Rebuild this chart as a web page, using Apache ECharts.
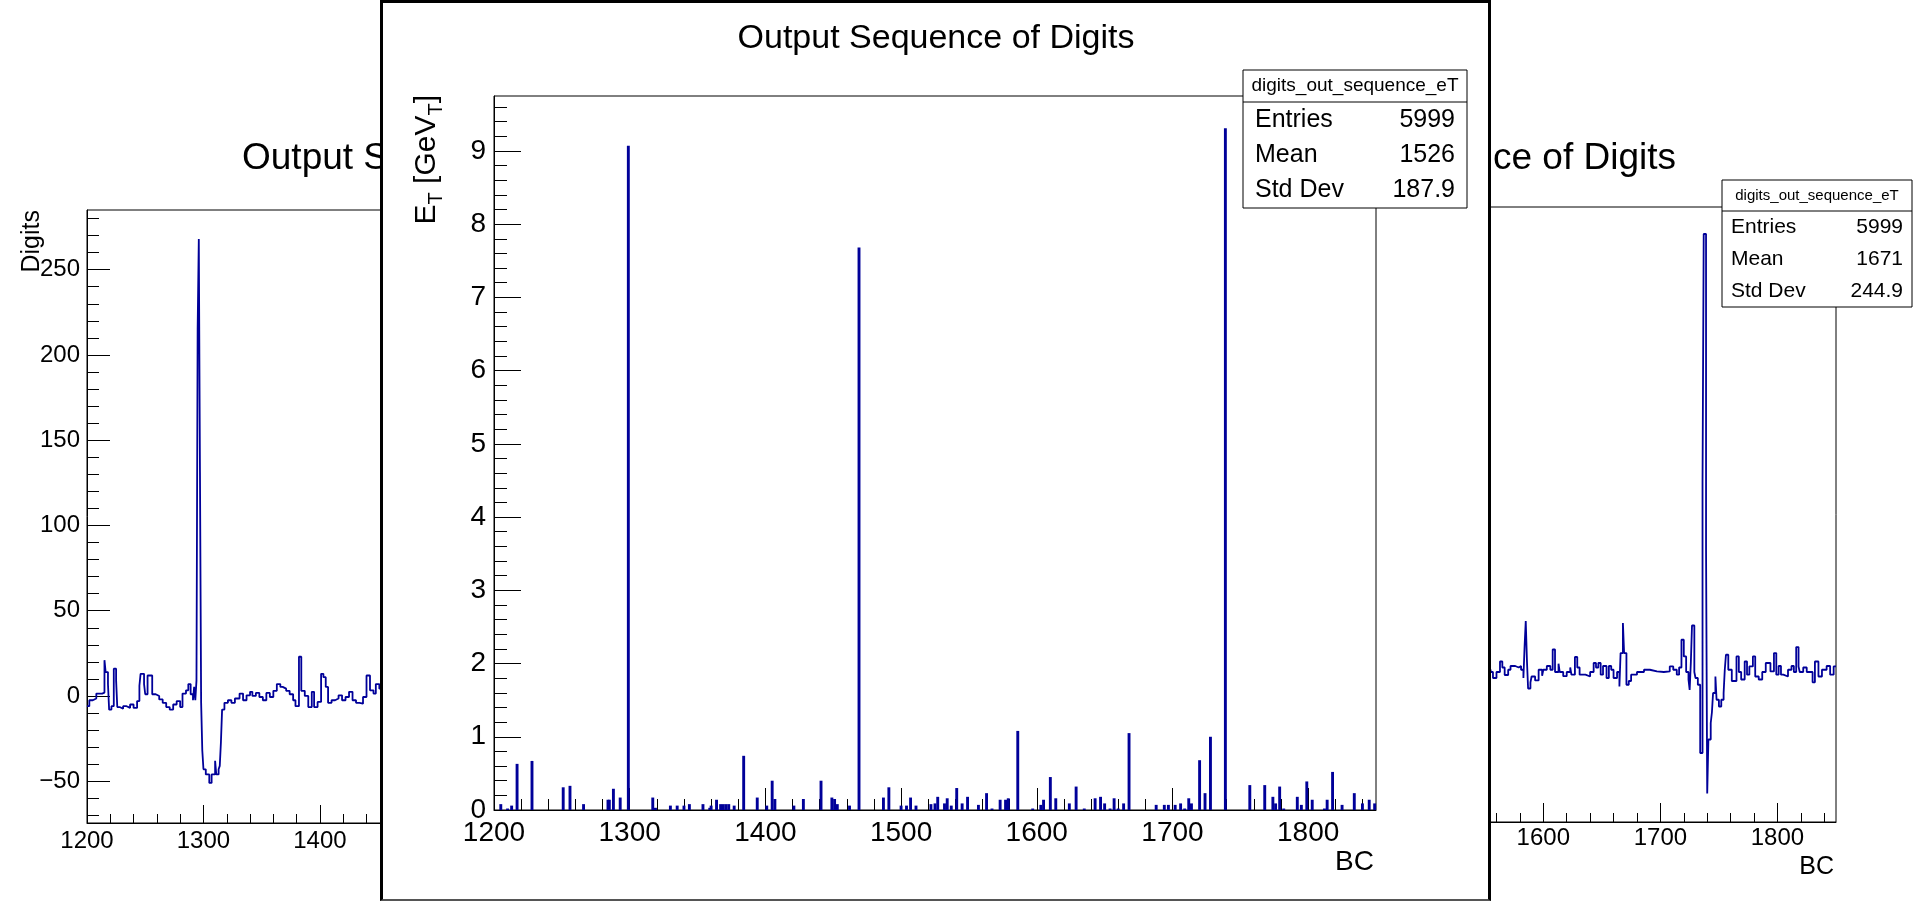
<!DOCTYPE html>
<html lang="en">
<head>
    <meta charset="UTF-8">
    <title>Output Sequence of Digits</title>
    <script src="https://cdn.jsdelivr.net/npm/echarts@6/dist/echarts.min.js"></script>
    <style>
        html, body { margin: 0; padding: 0; background: #fff; }
        body { width: 1915px; height: 901px; position: relative; overflow: hidden; }
        #back { position: absolute; left: 0; top: 0; width: 1915px; height: 901px; z-index: 1; }
        #frame {
            position: absolute; left: 380px; top: 0; width: 1111px; height: 901px;
            box-sizing: border-box; border: 3px solid #000; border-bottom: 2px solid #555;
            background: #fff; overflow: hidden; z-index: 5;
        }
        #front { position: absolute; left: -383px; top: -3px; width: 1915px; height: 901px; }
    </style>
</head>
<body>
    <div id="back"></div>
    <div id="frame"><div id="front"></div></div>

    <script>
        const FONT = '"Liberation Sans", Arial, Helvetica, sans-serif';
        const BLUE = '#000099';

        // ---- data ----
        const histName = 'digits_out_sequence_eT';
        const statLabels = ['Entries', 'Mean', 'Std Dev'];
        const statsMiddle = ['5999', '1526', '187.9'];
        const statsRight = ['5999', '1671', '244.9'];

        const bcTicks = [1200, 1300, 1400, 1500, 1600, 1700, 1800];
        const digitTicks = [-50, 0, 50, 100, 150, 200, 250];
        const digitTicksRight = [-100, -50, 0, 50, 100, 150, 200, 250, 300];
        const etTicks = [0, 1, 2, 3, 4, 5, 6, 7, 8, 9];

        // left canvas: digits per BC, [first BC of step, value]
        const digitsLeft = [
            [1200, -6], [1202, -2.5], [1205, -1.5], [1208, 1.4], [1213, 2], [1215, 21], [1216, 14],
            [1218, 7], [1219, -8], [1221, -6], [1223, 16], [1225, 9], [1226, -6.5], [1228, -7.5],
            [1231, -6], [1234, -7], [1237, -5], [1240, -7], [1243, -3], [1245, 6], [1246, 13],
            [1249, 7], [1250, 1], [1252, 12], [1256, 1], [1259, 0], [1262, -2], [1265, -4],
            [1268, -6.5], [1271, -8], [1274, -5], [1277, -3], [1280, -6.5], [1282, 1.4], [1285, 3.3],
            [1287, 7], [1289, 1], [1291, -2.5], [1292, 5.3], [1293, -2.5], [1294, 9], [1295, 215],
            [1296, 268], [1297, 131], [1298, -4], [1299, -32], [1300, -43], [1302, -46], [1305, -51],
            [1307, -46], [1310, -38], [1311, -46], [1313, -43], [1314, -41], [1315, -27], [1316, -8],
            [1318, -4], [1321, -2.5], [1324, -4], [1327, -1.5], [1331, 1.4], [1334, -2.5], [1337, 0.4],
            [1340, 2.4], [1342, 0], [1345, 1.8], [1348, -0.6], [1351, -2.5], [1354, 1.8], [1357, -0.6],
            [1360, 3], [1363, 7], [1366, 5.3], [1368, 4.3], [1371, 3], [1374, 1], [1377, -2.5],
            [1379, -6], [1382, 23], [1384, 3], [1387, 0], [1390, -6.5], [1393, 2.4], [1395, -6.5],
            [1398, -3.5], [1401, 13], [1403, 11], [1405, 5.3], [1407, -4], [1410, -2.5], [1413, -1.5],
            [1416, 0.4], [1419, -2.5], [1422, -0.6], [1425, 2.4], [1428, -2.5], [1431, -4], [1434, -4.5],
            [1437, -0.6], [1440, 12], [1443, 3.3], [1446, 1.4], [1448, 7], [1451, 4.3], [1455, 2], [1465, 2]
        ];

        // right canvas: digits per BC, [first BC of step, value]
        const digitsRight = [
            [1550, 1.5], [1555, 0], [1557, -4], [1560, 0], [1563, 7], [1565, 3], [1567, -2], [1570, 1.5],
            [1572, 4], [1576, 3], [1579, 4], [1581, 1.5], [1583, -4], [1584, 17], [1585, 34], [1586, 8],
            [1587, -11], [1589, -7], [1590, -3], [1593, -5.6], [1596, 1.5], [1599, -2.5], [1600, 1.5],
            [1603, 4], [1606, 1.5], [1608, 15], [1610, 0], [1613, 5.5], [1614, 0], [1617, -2.8], [1620, 0],
            [1623, 3], [1624, -1.8], [1627, 10], [1629, 3], [1631, -1.8], [1636, -3], [1640, 0], [1643, 6],
            [1645, 3], [1647, 6], [1649, -1.8], [1651, 4], [1654, -4], [1656, 4], [1658, 1.5], [1660, -4],
            [1663, 0], [1665, -9.6], [1666, 12.6], [1668, 32.7], [1669, 12.6], [1671, -8.5], [1673, -6],
            [1675, -1.8], [1680, 0], [1686, 1.5], [1691, 0.4], [1697, 0], [1703, 0.4], [1708, 3.7],
            [1711, 1.5], [1714, -1.8], [1716, 3], [1718, 21.5], [1720, 10.4], [1722, 0], [1724, -5],
            [1725, -12], [1726, 6], [1727, 31], [1729, 0], [1730, -4], [1732, -8.5], [1734, -54],
            [1736, 127], [1737, 292], [1739, 82], [1740, -81], [1741, -45], [1743, -34], [1744, -27],
            [1745, -14], [1747, -3], [1748, -18.5], [1750, -23], [1752, -18.5], [1754, -14], [1755, 1.5],
            [1756, 11.5], [1758, 1.5], [1761, -6], [1765, 10.4], [1767, 0], [1769, -5], [1772, 7],
            [1774, -1.8], [1776, 3.7], [1779, 10.4], [1781, -3], [1784, -5], [1787, 0], [1790, 6],
            [1794, 0.4], [1797, 12.6], [1799, -1.8], [1801, 4], [1803, -1.8], [1805, -3], [1809, 1.5],
            [1812, 4], [1814, 0], [1816, 16.6], [1818, 3.7], [1819, 0], [1822, 3], [1825, 0], [1830, -6.9],
            [1832, 7], [1835, -3], [1838, 1.5], [1842, 4], [1845, -1.8], [1848, 3.7], [1850, 3.7]
        ];

        // middle canvas: E_T per BC (non-empty bins), [BC, GeV]
        const etBins = [
            [1205, 0.08], [1210, 0.02], [1213, 0.06], [1217, 0.63], [1228, 0.67], [1251, 0.31], [1256, 0.33],
            [1266, 0.08], [1284, 0.14], [1285, 0.14], [1288, 0.29], [1293, 0.17], [1299, 9.07], [1317, 0.17],
            [1319, 0.03], [1330, 0.06], [1335, 0.06], [1340, 0.06], [1344, 0.08], [1354, 0.08], [1359, 0.03],
            [1360, 0.06], [1364, 0.14], [1367, 0.08], [1369, 0.08], [1371, 0.08], [1373, 0.08], [1377, 0.06],
            [1384, 0.74], [1394, 0.17], [1401, 0.06], [1405, 0.40], [1407, 0.15], [1421, 0.06], [1428, 0.15],
            [1441, 0.40], [1449, 0.17], [1451, 0.15], [1453, 0.08], [1462, 0.06], [1469, 7.68], [1487, 0.17],
            [1491, 0.31], [1500, 0.06], [1504, 0.06], [1507, 0.17], [1511, 0.06], [1522, 0.08], [1525, 0.09],
            [1527, 0.18], [1532, 0.09], [1534, 0.16], [1537, 0.06], [1541, 0.30], [1545, 0.09], [1549, 0.18],
            [1557, 0.07], [1563, 0.23], [1567, 0.02], [1573, 0.14], [1577, 0.14], [1579, 0.16], [1586, 1.08],
            [1597, 0.02], [1603, 0.07], [1605, 0.14], [1610, 0.45], [1614, 0.16], [1624, 0.09], [1629, 0.32],
            [1635, 0.02], [1643, 0.16], [1647, 0.18], [1650, 0.09], [1654, 0.02], [1657, 0.16], [1660, 0.02],
            [1664, 0.09], [1668, 1.05], [1688, 0.07], [1694, 0.07], [1697, 0.07], [1702, 0.07], [1706, 0.09],
            [1709, 0.02], [1712, 0.16], [1714, 0.09], [1720, 0.68], [1724, 0.23], [1728, 1.0], [1739, 9.31],
            [1757, 0.34], [1768, 0.34], [1774, 0.18], [1776, 0.09], [1779, 0.32], [1782, 0.02], [1792, 0.18],
            [1795, 0.07], [1799, 0.39], [1803, 0.14], [1812, 0.02], [1814, 0.14], [1818, 0.52], [1825, 0.07],
            [1834, 0.23], [1840, 0.09], [1845, 0.14], [1849, 0.09]
        ];

        // minor tick positions between the labelled ones
        function minorTicks(from, to, step, majorStep) {
            const out = [];
            for (let v = from; v <= to + 1e-9; v += step) {
                const r = Math.round(v * 1000) / 1000;
                if (Math.abs(r / majorStep - Math.round(r / majorStep)) > 1e-6) out.push(r);
            }
            return out;
        }

        function minusSign(v) {
            return v < 0 ? '\u2212' + Math.abs(v) : String(v);
        }

        // a pair of axes on one side: labelled major ticks + short minor ticks
        function axisPair(dim, gridIndex, min, max, majors, minors, majorLen, minorLen, label) {
            const base = {
                type: 'value', gridIndex: gridIndex, min: min, max: max,
                position: dim === 'x' ? 'bottom' : 'left',
                splitLine: { show: false },
                axisLine: { show: true, onZero: false, lineStyle: { color: '#000', width: 1 } }
            };
            return [
                Object.assign({}, base, {
                    axisTick: { show: true, inside: true, length: majorLen, customValues: majors, lineStyle: { color: '#000', width: 1 } },
                    axisLabel: Object.assign({ customValues: majors, color: '#000', fontFamily: FONT, formatter: minusSign }, label)
                }),
                Object.assign({}, base, {
                    axisLine: { show: false, onZero: false },
                    axisTick: { show: true, inside: true, length: minorLen, customValues: minors, lineStyle: { color: '#000', width: 1 } },
                    axisLabel: { show: false }
                })
            ];
        }

        function statsBox(x, y, w, h, headH, headFont, rowFont, pad, values) {
            const els = [
                { type: 'rect', z: 100, shape: { x: x, y: y, width: w, height: h }, style: { fill: '#fff', stroke: '#000', lineWidth: 1 } },
                { type: 'line', z: 101, shape: { x1: x, y1: y + headH, x2: x + w, y2: y + headH }, style: { stroke: '#000', lineWidth: 1 } },
                { type: 'text', z: 101, x: x + w / 2, y: y + headH / 2,
                  style: { text: histName, align: 'center', verticalAlign: 'middle', fontSize: headFont, fontFamily: FONT, fill: '#000' } }
            ];
            const rowH = (h - headH) / statLabels.length;
            statLabels.forEach(function (lab, i) {
                const cy = y + headH + rowH * (i + 0.5);
                els.push({ type: 'text', z: 101, x: x + pad, y: cy,
                    style: { text: lab, align: 'left', verticalAlign: 'middle', fontSize: rowFont, fontFamily: FONT, fill: '#000' } });
                els.push({ type: 'text', z: 101, x: x + w - pad, y: cy,
                    style: { text: values[i], align: 'right', verticalAlign: 'middle', fontSize: rowFont, fontFamily: FONT, fill: '#000' } });
            });
            return els;
        }

        const titleText = 'Output Sequence of Digits';
        const bcMinor = minorTicks(1200, 1850, 20, 100);

        // ---- back canvases (left and right) ----
        const back = echarts.init(document.getElementById('back'));
        const backX = []
            .concat(axisPair('x', 0, 1200, 1850, bcTicks, bcMinor, 18, 9, { fontSize: 24, margin: 6 }))
            .concat(axisPair('x', 1, 1200, 1850, bcTicks, bcMinor, 19, 9, { fontSize: 24, margin: 4 }));
        const backY = []
            .concat(axisPair('y', 0, -74.5, 285, digitTicks, minorTicks(-70, 280, 10, 50), 23, 12, { fontSize: 24, margin: 7 }))
            .concat(axisPair('y', 1, -100, 310, digitTicksRight, minorTicks(-100, 310, 10, 50), 23, 12, { fontSize: 24, margin: 7 }));

        back.setOption({
            animation: false,
            backgroundColor: 'transparent',
            title: [
                { text: titleText, left: 242, top: 159, textAlign: 'left', textVerticalAlign: 'middle', padding: 0,
                  textStyle: { fontFamily: FONT, fontSize: 37, fontWeight: 'normal', color: '#000' } },
                { text: titleText, left: 1676, top: 159, textAlign: 'right', textVerticalAlign: 'middle', padding: 0,
                  textStyle: { fontFamily: FONT, fontSize: 37, fontWeight: 'normal', color: '#000' } }
            ],
            grid: [
                { left: 87, right: 1071, top: 210, bottom: 78, show: true, borderColor: '#000', borderWidth: 1, backgroundColor: 'transparent' },
                { left: 1075, right: 79, top: 207, bottom: 79, show: true, borderColor: '#000', borderWidth: 1, backgroundColor: 'transparent' }
            ],
            xAxis: backX,
            yAxis: backY,
            series: [
                { name: 'left', type: 'line', step: 'end', data: digitsLeft, xAxisIndex: 0, yAxisIndex: 0,
                  symbol: 'none', clip: true, lineStyle: { color: BLUE, width: 1.8 } },
                { name: 'right', type: 'line', step: 'end', data: digitsRight, xAxisIndex: 2, yAxisIndex: 2,
                  symbol: 'none', clip: true, lineStyle: { color: BLUE, width: 1.8 } }
            ],
            graphic: {
                elements: [
                    { type: 'text', z: 50, x: 32, y: 210, rotation: Math.PI / 2,
                      style: { text: 'Digits', align: 'right', verticalAlign: 'middle', fontSize: 25, fontFamily: FONT, fill: '#000' } },
                    { type: 'text', z: 50, x: 1834, y: 867,
                      style: { text: 'BC', align: 'right', verticalAlign: 'middle', fontSize: 25, fontFamily: FONT, fill: '#000' } }
                ].concat(statsBox(1722, 180, 190, 127, 31, 15, 21, 9, statsRight))
            }
        });

        // ---- front canvas (middle) ----
        const front = echarts.init(document.getElementById('front'));
        front.setOption({
            animation: false,
            backgroundColor: 'transparent',
            title: {
                text: titleText, left: 936, top: 39, textAlign: 'center', textVerticalAlign: 'middle', padding: 0,
                textStyle: { fontFamily: FONT, fontSize: 34, fontWeight: 'normal', color: '#000' }
            },
            grid: { left: 494, right: 539, top: 96, bottom: 91, show: true, borderColor: '#000', borderWidth: 1, backgroundColor: 'transparent' },
            xAxis: axisPair('x', 0, 1200, 1850, bcTicks, bcMinor, 22, 11, { fontSize: 28, margin: 9 }),
            yAxis: axisPair('y', 0, 0, 9.75, etTicks, minorTicks(0, 9.7, 0.2, 1), 27, 13, { fontSize: 28, margin: 8 }),
            series: [
                { name: 'E_T', type: 'bar', data: etBins, xAxisIndex: 0, yAxisIndex: 0,
                  barWidth: 2.9, itemStyle: { color: BLUE } }
            ],
            graphic: {
                elements: [
                    { type: 'text', z: 50, x: 427, y: 95, rotation: Math.PI / 2,
                      style: {
                          text: '{m|E}{s|T}{m| [GeV}{s|T}{m|]}', align: 'right', verticalAlign: 'middle',
                          rich: {
                              m: { fontSize: 30, fontFamily: FONT, fill: '#000' },
                              s: { fontSize: 20, fontFamily: FONT, fill: '#000', padding: [18, 0, 0, 0] }
                          }
                      } },
                    { type: 'text', z: 50, x: 1374, y: 862,
                      style: { text: 'BC', align: 'right', verticalAlign: 'middle', fontSize: 28, fontFamily: FONT, fill: '#000' } }
                ].concat(statsBox(1243, 70, 224, 138, 32, 19, 25, 12, statsMiddle))
            }
        });
    </script>
</body>
</html>
